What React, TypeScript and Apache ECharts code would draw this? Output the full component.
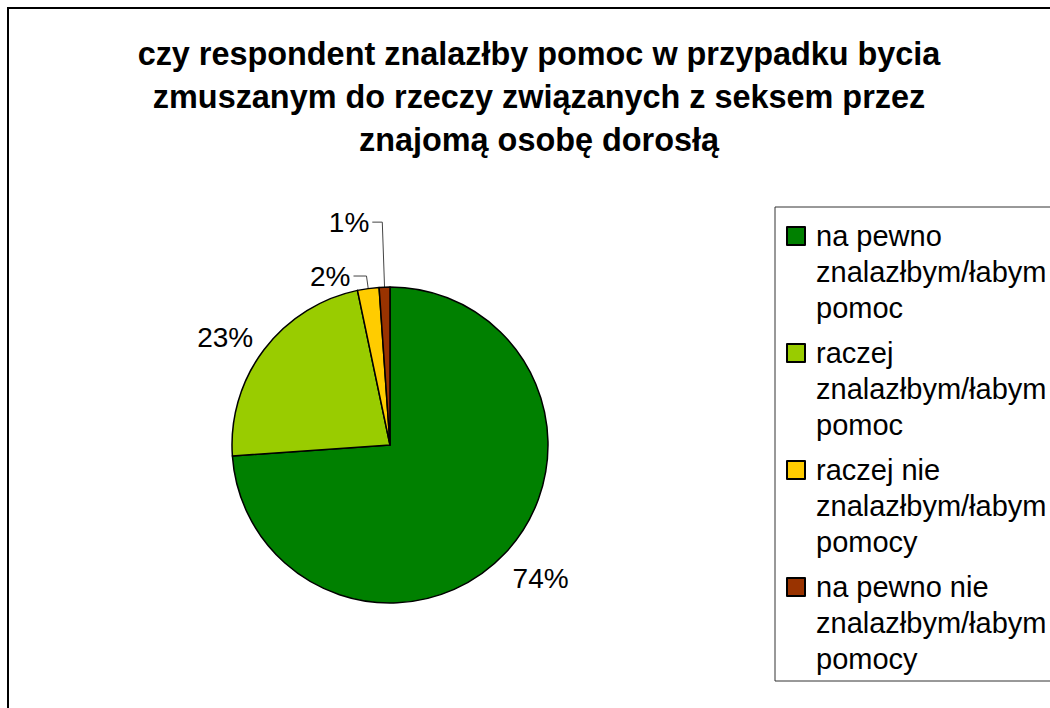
import React, { useEffect, useRef } from "react";
import * as echarts from "echarts";

const titleLines = [
  "czy respondent znalazłby pomoc w przypadku bycia",
  "zmuszanym do rzeczy związanych z seksem przez",
  "znajomą osobę dorosłą",
];

const categories = [
  "na pewno\nznalazłbym/łabym\npomoc",
  "raczej\nznalazłbym/łabym\npomoc",
  "raczej nie\nznalazłbym/łabym\npomocy",
  "na pewno nie\nznalazłbym/łabym\npomocy",
];
const values = [73.9, 22.8, 2.2, 1.1];
const colors = ["#008000", "#99CC00", "#FFCC00", "#993300"];

// label placement styles (leader line lengths), per slice
const labelLineStyles = [
  { show: false, length: 37, length2: -25, dist: 5 },
  { show: false, length: 21, length2: -11, dist: 5 },
  { show: true, length: 12.6, length2: 13, dist: 3 },
  { show: true, length: 65, length2: 10, dist: 3 },
];

const FONT = "'Liberation Sans', Arial, Helvetica, sans-serif";

export default function App() {
  const ref = useRef<HTMLDivElement>(null);
  useEffect(() => {
    if (!ref.current) return;
    const chart = echarts.init(ref.current, null, { renderer: "svg" });
    const data = categories.map((name, i) => ({
      name,
      value: values[i],
      itemStyle: { color: colors[i] },
      label: { distanceToLabelLine: labelLineStyles[i].dist },
      labelLine: {
        show: labelLineStyles[i].show,
        length: labelLineStyles[i].length,
        length2: labelLineStyles[i].length2,
      },
    }));
    chart.setOption({
      animation: false,
      backgroundColor: "#fff",
      graphic: [
        {
          type: "rect",
          shape: { x: 8, y: 8, width: 1100, height: 800 },
          style: { fill: "none", stroke: "#000", lineWidth: 2 },
          silent: true,
        },
        {
          type: "text",
          x: 539,
          y: 32.5,
          style: {
            text: titleLines.join("\n"),
            font: `bold 32.4px ${FONT}`,
            lineHeight: 43,
            textAlign: "center",
            textVerticalAlign: "top",
            fill: "#000",
          },
        },
      ],
      legend: {
        orient: "vertical",
        left: 775,
        top: 207,
        padding: [10, 10, 3, 11],
        borderColor: "#333",
        borderWidth: 1,
        itemGap: 7,
        itemWidth: 24,
        itemHeight: 108,
        symbolKeepAspect: false,
        icon: "path://M0,0M24,108M0,9L18,9L18,27L0,27Z",
        selectedMode: false,
        textStyle: {
          fontFamily: FONT,
          fontSize: 29,
          lineHeight: 36,
          color: "#000",
        },
        data: categories,
      },
      series: [
        {
          type: "pie",
          center: [390, 445],
          radius: 158,
          startAngle: 90,
          clockwise: true,
          avoidLabelOverlap: false,
          percentPrecision: 0,
          itemStyle: { borderColor: "#000", borderWidth: 1.5 },
          label: {
            show: true,
            position: "outside",
            formatter: "{d}%",
            fontFamily: FONT,
            fontSize: 28,
            color: "#000",
          },
          labelLine: {
            lineStyle: { color: "#444", width: 1 },
            smooth: false,
          },
          emphasis: { disabled: true },
          data,
        },
      ],
    });
    return () => chart.dispose();
  }, []);
  return (
    <div
      ref={ref}
      style={{ position: "absolute", left: 0, top: 0, width: 1050, height: 708 }}
    />
  );
}
